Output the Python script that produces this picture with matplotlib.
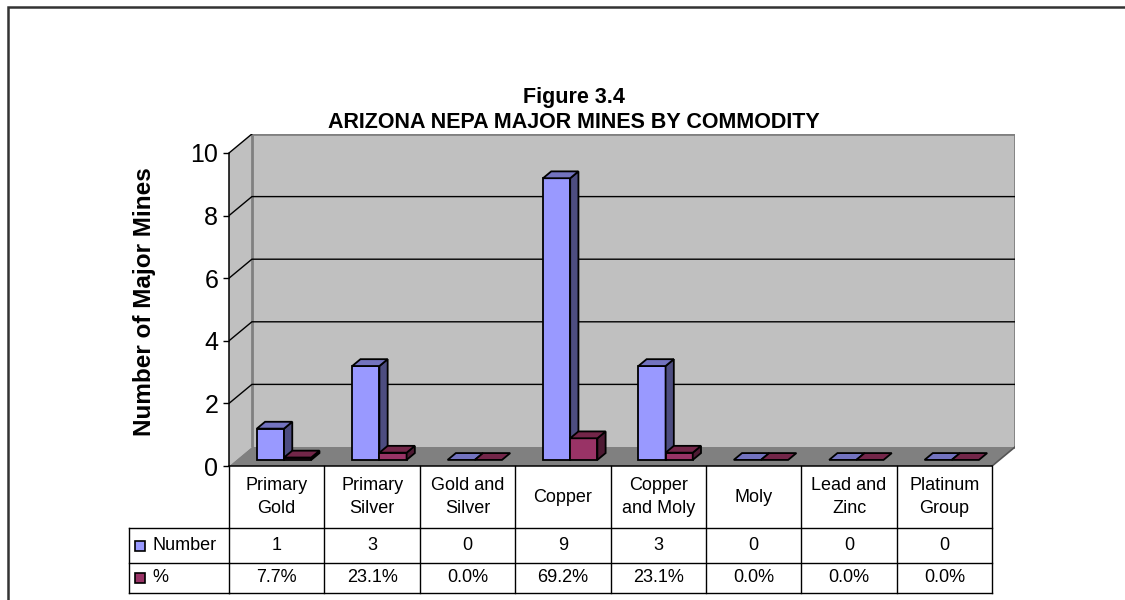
import numpy as np
import matplotlib
matplotlib.use("Agg")
import matplotlib.pyplot as plt
import matplotlib.transforms as mtransforms
from matplotlib.patches import Polygon, Rectangle

plt.rcParams['font.family'] = ['Liberation Sans', 'DejaVu Sans']

# data
categories = ["Primary\nGold", "Primary\nSilver", "Gold and\nSilver", "Copper",
              "Copper\nand Moly", "Moly", "Lead and\nZinc", "Platinum\nGroup"]
number = [1, 3, 0, 9, 3, 0, 0, 0]
percent = [7.7, 23.1, 0.0, 69.2, 23.1, 0.0, 0.0, 0.0]
yticks = [0, 2, 4, 6, 8, 10]

W, H = 1125, 600
fig = plt.figure(figsize=(W / 100, H / 100), dpi=100)

# pseudo-3d depth offset (x in category units, y in value units)
DX, DY = 0.24, 0.607
Z0, Z1 = 0.32, 0.68
n = len(categories)
ymax = 10

# axes: front plane x 0..n, y 0..10, back plane shifted by DX, DY
ax = fig.add_axes([229 / W, (H - 466) / H, (1015 - 229) / W, (466 - 134) / H])
ax.set_xlim(0, n + DX)
ax.set_ylim(0, ymax + DY)
ax.patch.set_visible(False)
for s in ['top', 'right']:
    ax.spines[s].set_visible(False)
ax.spines['left'].set_bounds(0, ymax)
ax.spines['bottom'].set_bounds(0, n)
ax.spines['left'].set_linewidth(1.1)
ax.spines['bottom'].set_linewidth(1.1)
ax.set_xticks([])
ax.set_yticks(yticks)
ax.tick_params(axis='y', direction='out', length=4.3, width=1, pad=3.5, labelsize=18)

wall = '#C0C0C0'
floor = '#808080'
edge = '#808080'

# walls and floor
ax.add_patch(Polygon([(DX, DY), (n + DX, DY), (n + DX, ymax + DY), (DX, ymax + DY)],
                     closed=True, fc=wall, ec='none', zorder=0.5))
ax.add_patch(Polygon([(0, 0), (DX, DY), (DX, ymax + DY), (0, ymax)],
                     closed=True, fc=wall, ec='none', zorder=0.5))
ax.add_patch(Polygon([(0, 0), (n, 0), (n + DX, DY), (DX, DY)],
                     closed=True, fc=floor, ec='none', zorder=0.6))
ax.plot([DX, DX], [DY, ymax + DY], color=edge, lw=2, zorder=0.7, solid_capstyle='butt')
ax.plot([DX, n + DX, n + DX], [ymax + DY, ymax + DY, DY], color=edge, lw=2, zorder=0.7)
ax.plot([n, n + DX], [0, DY], color='#555555', lw=1.2, zorder=0.7)

# gridlines on the side and back walls
for v in yticks[1:]:
    ax.plot([0, DX, n + DX if v < ymax else DX], [v, v + DY, v + DY],
            color='black', lw=1, zorder=1)


def box(x0, x1, v, front, side, top):
    f0, f1 = Z0, Z1
    if v > 0:
        ax.add_patch(Polygon([(x0 + f0 * DX, f0 * DY), (x1 + f0 * DX, f0 * DY),
                              (x1 + f0 * DX, v + f0 * DY), (x0 + f0 * DX, v + f0 * DY)],
                             closed=True, fc=front, ec='black', lw=1.3, zorder=3))
        ax.add_patch(Polygon([(x1 + f0 * DX, f0 * DY), (x1 + f1 * DX, f1 * DY),
                              (x1 + f1 * DX, v + f1 * DY), (x1 + f0 * DX, v + f0 * DY)],
                             closed=True, fc=side, ec='black', lw=1.3, zorder=3))
    ax.add_patch(Polygon([(x0 + f0 * DX, v + f0 * DY), (x1 + f0 * DX, v + f0 * DY),
                          (x1 + f1 * DX, v + f1 * DY), (x0 + f1 * DX, v + f1 * DY)],
                         closed=True, fc=top, ec='black', lw=1.3, zorder=3))


bw = 0.285
for i in range(n):
    c = i + 0.5
    box(c - bw, c, number[i], '#9999FF', '#4D4D80', '#7373BF')
    box(c, c + bw, percent[i] / 100, '#993366', '#4D1A33', '#732649')

# data table below the plot
px = mtransforms.Affine2D().scale(1 / W, -1 / H).translate(0, 1) + fig.transFigure
colx = mtransforms.blended_transform_factory(ax.transData, px)
row_top, row1, row2, row_bot = 466, 528, 563, 593
tab_left = 129
tsize = 13

for i in range(n + 1):
    fig.add_artist(plt.Line2D([i, i], [row_top, row_bot], transform=colx,
                              color='black', lw=1))
fig.add_artist(plt.Line2D([tab_left, tab_left], [row1, row_bot], transform=px,
                          color='black', lw=1))
for yy in [row1, row2, row_bot]:
    fig.add_artist(plt.Line2D([tab_left, 229], [yy, yy], transform=px, color='black', lw=1))
    fig.add_artist(plt.Line2D([0, n], [yy, yy], transform=colx, color='black', lw=1))

for i in range(n):
    c = i + 0.5
    fig.text(c, (row_top + row1) / 2, categories[i], transform=colx, ha='center',
             va='center', fontsize=tsize, linespacing=1.45)
    fig.text(c, (row1 + row2) / 2, str(number[i]), transform=colx, ha='center',
             va='center', fontsize=tsize)
    fig.text(c, (row2 + row_bot) / 2, f"{percent[i]:.1f}%", transform=colx,
             ha='center', va='center', fontsize=tsize)

for (y0, y1), label, col in [((row1, row2), "Number", '#9999FF'),
                             ((row2, row_bot), "%", '#993366')]:
    yc = (y0 + y1) / 2
    fig.add_artist(Rectangle((135, yc - 5), 10, 10, transform=px, fc=col,
                             ec='black', lw=1.2))
    fig.text(152, yc, label, transform=px, ha='left', va='center', fontsize=tsize)

# titles
fig.text(574 / W, 1 - 97 / H, "Figure 3.4", ha='center', va='center',
         fontsize=15.5, fontweight='bold')
fig.text(574 / W, 1 - 122 / H, "ARIZONA NEPA MAJOR MINES BY COMMODITY",
         ha='center', va='center', fontsize=15.5, fontweight='bold')
fig.text(145 / W, 1 - 302 / H, "Number of Major Mines", rotation=90,
         ha='center', va='center', fontsize=17.5, fontweight='bold')

# chart border
fig.add_artist(Rectangle((8 / W, -0.1), 2, 1.1 - 7 / H, transform=fig.transFigure,
                         fill=False, ec='#333333', lw=1.8))

fig.savefig("out.png", dpi=100)
